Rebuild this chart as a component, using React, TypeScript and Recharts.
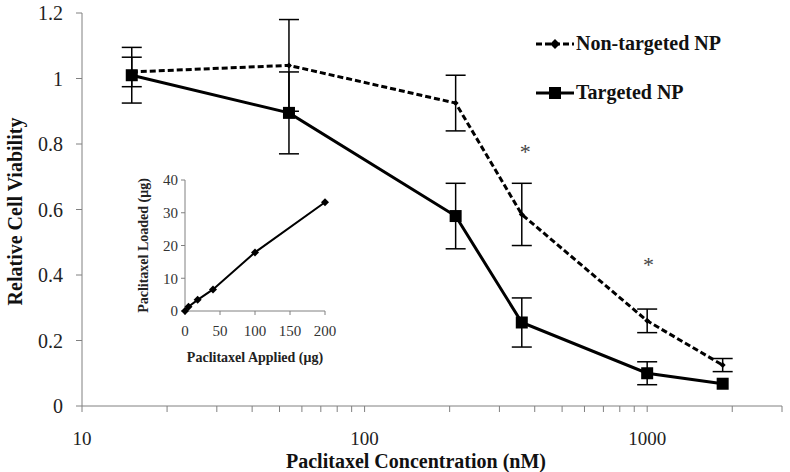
import React from 'react';
import { ComposedChart, LineChart, Line, XAxis, YAxis, ErrorBar, Scatter, Legend, Label } from 'recharts';

// ---- Main chart data ----
const concentrations = [15, 54, 210, 360, 1000, 1850];
const nonTargeted = [1.02, 1.04, 0.925, 0.585, 0.26, 0.125];
const nonTargetedErr = [0.045, 0.14, 0.085, 0.095, 0.036, 0.02];
const targeted = [1.01, 0.895, 0.58, 0.255, 0.1, 0.068];
const targetedErr = [0.085, 0.125, 0.1, 0.075, 0.035, 0];
const xTicks = [10, 20, 30, 40, 50, 60, 70, 80, 90, 100, 200, 300, 400, 500, 600, 700, 800, 900, 1000, 2000, 3000];
const xLabelTicks = [10, 100, 1000];
const yTicks = [0, 0.2, 0.4, 0.6, 0.8, 1, 1.2];
const asteriskX = [370, 1010];
const asteriskY = [0.785, 0.44];

// ---- Inset data ----
const applied = [0, 5, 18, 40, 100, 200];
const loaded = [0, 1.3, 3.4, 6.6, 17.9, 33.2];
const insetXTicks = [0, 50, 100, 150, 200];
const insetYTicks = [0, 10, 20, 30, 40];

const mainData = concentrations.map((c, i) => ({
  conc: c,
  nt: nonTargeted[i],
  ntErr: nonTargetedErr[i],
  t: targeted[i],
  tErr: targetedErr[i],
}));
const starData = asteriskX.map((c, i) => ({ conc: c, star: asteriskY[i] }));
const insetData = applied.map((a, i) => ({ applied: a, loaded: loaded[i] }));

const FONT = '"Liberation Serif", "Times New Roman", serif';
const AXIS = '#808080';

const Diamond = (props: any) => {
  const { cx, cy, r = 5 } = props;
  if (cx == null || cy == null) return null;
  return (
    <polygon
      points={`${cx},${cy - r} ${cx + r},${cy} ${cx},${cy + r} ${cx - r},${cy}`}
      fill="#000"
    />
  );
};

const Square = (props: any) => {
  const { cx, cy } = props;
  if (cx == null || cy == null) return null;
  const s = 6;
  return <rect x={cx - s} y={cy - s} width={2 * s} height={2 * s} fill="#000" />;
};

const Star = (props: any) => {
  const { cx, cy } = props;
  if (cx == null || cy == null) return null;
  return (
    <text x={cx} y={cy + 10} textAnchor="middle" fontFamily={FONT} fontSize={22} fill="#444">
      *
    </text>
  );
};

const legendItems = [
  { key: 'nt', name: 'Non-targeted NP', dashed: true, marker: 'diamond' },
  { key: 't', name: 'Targeted NP', dashed: false, marker: 'square' },
];

const renderLegend = () => (
  <div style={{ fontFamily: FONT }}>
    {legendItems.map((it) => (
      <div key={it.key} style={{ display: 'flex', alignItems: 'center', height: 49 }}>
        <svg width={39} height={14} style={{ display: 'block' }}>
          <line
            x1={0}
            y1={7}
            x2={38}
            y2={7}
            stroke="#000"
            strokeWidth={3}
            strokeDasharray={it.dashed ? '6 3' : undefined}
          />
          {it.marker === 'diamond' ? (
            <polygon points="19,2 24,7 19,12 14,7" fill="#000" />
          ) : (
            <rect x={13} y={1} width={12} height={12} fill="#000" />
          )}
        </svg>
        <span style={{ fontWeight: 'bold', fontSize: 20, color: '#111', marginLeft: 1 }}>{it.name}</span>
      </div>
    ))}
  </div>
);

export default function App() {
  return (
    <div style={{ position: 'absolute', left: 0, top: 0, width: 790, height: 472, background: '#fff' }}>
      <ComposedChart width={790} height={472} data={mainData} margin={{ top: 13, right: 8, bottom: 0, left: 0 }}>
        <XAxis
          dataKey="conc"
          type="number"
          scale="log"
          domain={[10, 3000]}
          allowDataOverflow
          ticks={xTicks}
          interval={0}
          tickFormatter={(v: number) => (xLabelTicks.includes(v) ? String(v) : '')}
          height={66}
          stroke={AXIS}
          tickSize={6}
          tickMargin={20}
          tick={{ fill: '#222', fontSize: 19, fontFamily: FONT }}
        >
          <Label
            content={(p: any) => {
              const vb = p.viewBox || {};
              return (
                <text
                  x={vb.x + vb.width / 2 - 16}
                  y={vb.y + 55}
                  textAnchor="middle"
                  dominantBaseline="central"
                  fontFamily={FONT}
                  fontWeight="bold"
                  fontSize={20}
                  fill="#111"
                >
                  Paclitaxel Concentration (nM)
                </text>
              );
            }}
          />
        </XAxis>
        <YAxis
          type="number"
          domain={[0, 1.2]}
          ticks={yTicks}
          interval={0}
          width={82}
          stroke={AXIS}
          tickSize={6}
          tickMargin={13}
          tick={{ fill: '#222', fontSize: 20, fontFamily: FONT }}
        >
          <Label
            content={(p: any) => {
              const vb = p.viewBox || {};
              const cx = vb.x + 15;
              const cy = vb.y + vb.height / 2 + 2;
              return (
                <text
                  x={cx}
                  y={cy}
                  transform={`rotate(-90, ${cx}, ${cy})`}
                  textAnchor="middle"
                  dominantBaseline="central"
                  fontFamily={FONT}
                  fontWeight="bold"
                  fontSize={20}
                  fill="#111"
                >
                  Relative Cell Viability
                </text>
              );
            }}
          />
        </YAxis>
        <Legend
          verticalAlign="middle"
          align="center"
          layout="vertical"
          content={renderLegend}
          wrapperStyle={{ position: 'absolute', left: 536, top: 19, width: 250, height: 98 }}
        />
        <Line
          dataKey="nt"
          name="Non-targeted NP"
          stroke="#000"
          strokeWidth={3}
          strokeDasharray="6 3"
          dot={<Diamond />}
          activeDot={false}
          isAnimationActive={false}
        >
          <ErrorBar dataKey="ntErr" width={10} stroke="#000" strokeWidth={1.5} direction="y" />
        </Line>
        <Line
          dataKey="t"
          name="Targeted NP"
          stroke="#000"
          strokeWidth={3}
          dot={<Square />}
          activeDot={false}
          isAnimationActive={false}
        >
          <ErrorBar dataKey="tErr" width={10} stroke="#000" strokeWidth={1.5} direction="y" />
        </Line>
        <Scatter data={starData} dataKey="star" shape={<Star />} legendType="none" isAnimationActive={false} />
      </ComposedChart>

      <div style={{ position: 'absolute', left: 130, top: 170 }}>
        <LineChart width={220} height={200} data={insetData} margin={{ top: 10, right: 25, bottom: 0, left: 0 }}>
          <XAxis
            dataKey="applied"
            type="number"
            domain={[0, 200]}
            ticks={insetXTicks}
            interval={0}
            height={59}
            stroke={AXIS}
            tickSize={4}
            tickMargin={10}
            tick={{ fill: '#333', fontSize: 15, fontFamily: FONT }}
          >
            <Label
              content={(p: any) => {
                const vb = p.viewBox || {};
                return (
                  <text
                    x={vb.x + vb.width / 2}
                    y={vb.y + 46}
                    textAnchor="middle"
                    dominantBaseline="central"
                    fontFamily={FONT}
                    fontWeight="bold"
                    fontSize={14}
                    fill="#222"
                  >
                    Paclitaxel Applied (μg)
                  </text>
                );
              }}
            />
          </XAxis>
          <YAxis
            type="number"
            domain={[0, 40]}
            ticks={insetYTicks}
            interval={0}
            width={55}
            stroke={AXIS}
            tickSize={4}
            tickMargin={3}
            tick={{ fill: '#333', fontSize: 15, fontFamily: FONT }}
          >
            <Label
              content={(p: any) => {
                const vb = p.viewBox || {};
                const cx = vb.x + 13;
                const cy = vb.y + vb.height / 2;
                return (
                  <text
                    x={cx}
                    y={cy}
                    transform={`rotate(-90, ${cx}, ${cy})`}
                    textAnchor="middle"
                    dominantBaseline="central"
                    fontFamily={FONT}
                    fontWeight="bold"
                    fontSize={14}
                    fill="#222"
                  >
                    Paclitaxel Loaded (μg)
                  </text>
                );
              }}
            />
          </YAxis>
          <Line
            dataKey="loaded"
            stroke="#000"
            strokeWidth={2}
            dot={<Diamond r={4} />}
            activeDot={false}
            isAnimationActive={false}
          />
        </LineChart>
      </div>
    </div>
  );
}
